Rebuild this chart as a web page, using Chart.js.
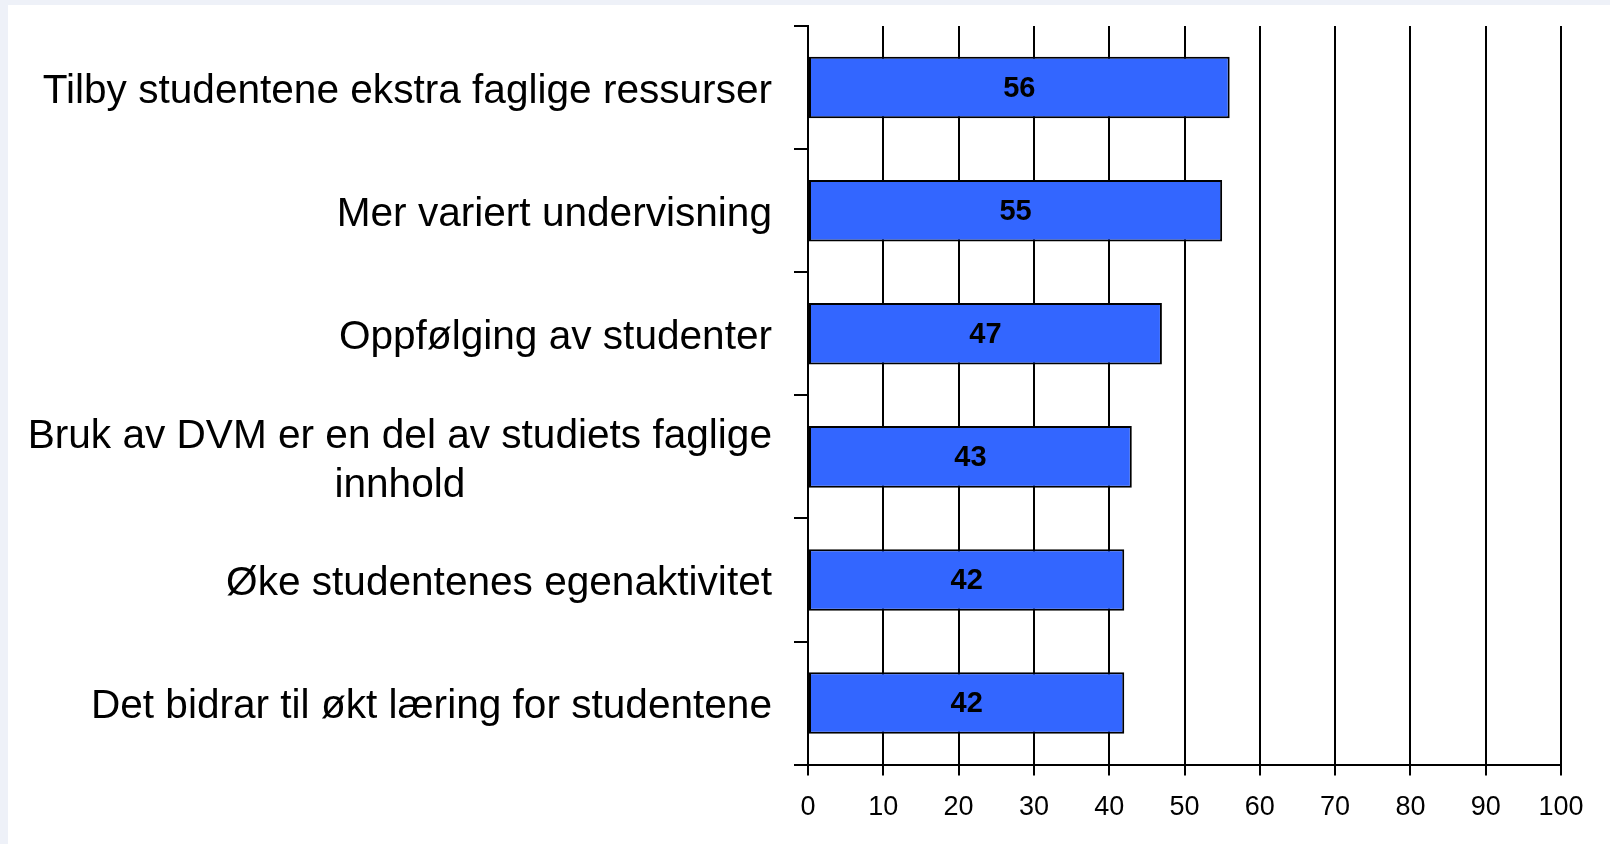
<!DOCTYPE html>
<html>
<head>
<meta charset="utf-8">
<script src="https://cdn.jsdelivr.net/npm/chart.js@4"></script>
<style>
  html, body { margin: 0; padding: 0; background: #eef1f8; }
  #wrap { position: absolute; left: 8px; top: 5px; width: 1602px; height: 839px; background: #fff; }
</style>
</head>
<body>
<div id="wrap"><canvas id="chart1" width="1602" height="839"></canvas></div>
<script>
// kategorier (y-akse) og verdier
var categories = [
    'Tilby studentene ekstra faglige ressurser',
    'Mer variert undervisning',
    'Oppfølging av studenter',
    ['Bruk av DVM er en del av studiets faglige', 'innhold'],
    'Øke studentenes egenaktivitet',
    'Det bidrar til økt læring for studentene'
];
var values = [56, 55, 47, 43, 42, 42];
var xTicks = [0, 10, 20, 30, 40, 50, 60, 70, 80, 90, 100];

var fontFam = '"Liberation Sans", Arial, sans-serif';

// tegner tallet midt i hver stolpe
var barLabels = {
    id: 'barLabels',
    afterDatasetsDraw: function(chart) {
        var ctx = chart.ctx;
        var meta = chart.getDatasetMeta(0);
        ctx.save();
        ctx.font = 'bold 29px ' + fontFam;
        ctx.fillStyle = '#000';
        ctx.textAlign = 'center';
        ctx.textBaseline = 'middle';
        meta.data.forEach(function(bar, i) {
            var c = bar.getCenterPoint();
            ctx.fillText(values[i], c.x, c.y + 1);
        });
        ctx.restore();
    }
};

// kategoritekst til venstre, flerlinjet tekst sentreres i blokken
var catLabels = {
    id: 'catLabels',
    afterDraw: function(chart) {
        var ctx = chart.ctx;
        var y = chart.scales.y;
        var right = chart.chartArea.left - 36;
        var lh = 49;
        ctx.save();
        ctx.font = '40.6px ' + fontFam;
        ctx.fillStyle = '#000';
        ctx.textBaseline = 'middle';
        categories.forEach(function(lab, i) {
            var cy = y.getPixelForValue(i) + 4;
            if (Array.isArray(lab)) {
                var w = 0;
                lab.forEach(function(l) { w = Math.max(w, ctx.measureText(l).width); });
                var cx = right - w / 2;
                ctx.textAlign = 'center';
                lab.forEach(function(l, k) {
                    ctx.fillText(l, cx, cy + (k - (lab.length - 1) / 2) * lh);
                });
            } else {
                ctx.textAlign = 'right';
                ctx.fillText(lab, right, cy);
            }
        });
        ctx.restore();
    }
};

var ctx1 = document.getElementById('chart1').getContext('2d');
var chart1 = new Chart(ctx1, {
    type: 'bar',
    data: {
        labels: categories,
        datasets: [{
            data: values,
            backgroundColor: '#3366FF',
            borderColor: '#000',
            borderWidth: 2,
            borderSkipped: false,
            barPercentage: 0.5,
            categoryPercentage: 1
        }]
    },
    options: {
        indexAxis: 'y',
        responsive: false,
        animation: false,
        layout: { padding: { left: 786, right: 49, top: 21, bottom: 4 } },
        plugins: { legend: { display: false }, tooltip: { enabled: false } },
        scales: {
            x: {
                min: 0,
                max: 100,
                afterBuildTicks: function(axis) {
                    axis.ticks = xTicks.map(function(v) { return { value: v }; });
                },
                grid: { color: '#000', lineWidth: 2, tickLength: 11 },
                border: { display: true, color: '#000', width: 2 },
                ticks: { color: '#000', padding: 16, font: { family: fontFam, size: 27 } }
            },
            y: {
                offset: true,
                grid: { offset: true, drawOnChartArea: false, color: '#000', lineWidth: 2, tickLength: 14 },
                border: { display: true, color: '#000', width: 2 },
                ticks: { display: false }
            }
        }
    },
    plugins: [barLabels, catLabels]
});
</script>
</body>
</html>
